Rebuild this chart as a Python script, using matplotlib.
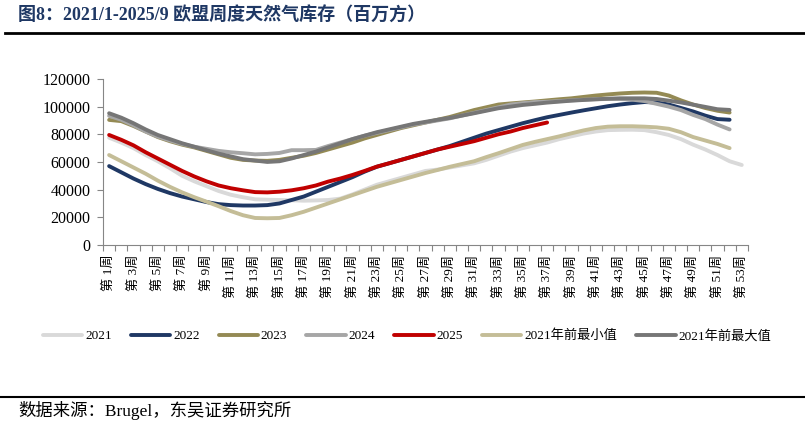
import matplotlib
matplotlib.use("Agg")
import matplotlib.pyplot as plt
from matplotlib.lines import Line2D
from matplotlib.ticker import FixedLocator, NullFormatter

plt.rcParams["font.family"] = ["Liberation Serif", "Noto Sans CJK SC"]

# weekly EU gas storage, million m3
weeks = list(range(1, 54))
week_labels = [f"第 {w}周" for w in weeks]

y2021 = [77500, 74000, 70000, 65000, 60500, 55500, 50000, 46000, 42500, 39000,
         36300, 34500, 33000, 32700, 32500, 32300, 32000, 32200, 32500, 33500,
         36500, 40000, 43500, 46000, 48500, 51000, 53500, 54500, 56000, 57500,
         59000, 61500, 64500, 67500, 70000, 72000, 74000, 76500, 78500, 80500,
         82000, 83000, 83200, 83300, 83000, 81500, 79500, 76500, 72500, 69000,
         65000, 60500, 57800]
y2022 = [57000, 52500, 48000, 44000, 40500, 37500, 35000, 33000, 31000, 29500,
         28800, 28500, 28500, 28800, 30000, 32500, 35000, 38500, 42000, 45500,
         49000, 53000, 56500, 59000, 61500, 64000, 66500, 69000, 71500, 74500,
         77500, 80500, 83000, 85500, 88000, 90200, 92300, 94000, 95700, 97300,
         98800, 100300, 101500, 102500, 103300, 103000, 101500, 99000, 96500, 93500,
         91000, 90500]
y2023 = [90400, 89500, 86000, 82000, 78000, 75000, 72500, 70500, 68000, 65500,
         63000, 61500, 61000, 60800, 61500, 63000, 64500, 66500, 69000, 71500,
         74000, 77000, 79500, 82000, 84500, 86500, 88500, 90500, 92500, 95000,
         97500, 99500, 101500, 102300, 103000, 103700, 104500, 105300, 106000, 107000,
         108000, 108800, 109500, 110000, 110200, 110000, 108000, 104500, 101500, 99000,
         97000, 95700]
y2024 = [93300, 90500, 86500, 82000, 78300, 75500, 73000, 71000, 69500, 68000,
         67000, 66300, 65500, 65800, 66500, 68500, 68500, 68700, 71500, 74000,
         76500, 79000, 81000, 83000, 85000, 87000, 88500, 90000, 91500, 93500,
         95500, 97500, 99500, 101500, 102500, 103300, 103500, 104000, 104500, 105000,
         105300, 105500, 105500, 105000, 104000, 102000, 100000, 97500, 94000, 91000,
         87000, 83500]
y2025 = [79500, 76000, 72000, 67000, 62500, 58000, 53500, 49500, 46000, 43000,
         41000, 39500, 38200, 38000, 38500, 39500, 41000, 43000, 45800, 48000,
         50600, 53500, 56600, 59000, 61500, 64000, 66500, 69000, 71000, 73000,
         75000, 77500, 80000, 82000, 84500, 86500, 88500]
ymin = [65000, 60500, 56000, 51500, 46500, 42000, 38000, 34500, 31300, 28000,
        24500, 21500, 19500, 19300, 19500, 21500, 24000, 27000, 30000, 33000,
        36000, 39000, 42000, 44500, 47000, 49500, 52000, 54200, 56500, 58500,
        60500, 63500, 66300, 69300, 72300, 74500, 76500, 78500, 80700, 82800,
        84500, 85500, 85800, 85800, 85500, 85000, 84000, 81500, 78000, 75500,
        73000, 70000]
ymax = [95200, 92000, 88000, 83500, 79500, 76500, 73500, 71000, 68500, 66000,
        64000, 62000, 61000, 60000, 60500, 62500, 65000, 67500, 70500, 73500,
        76500, 79000, 81500, 83500, 85500, 87500, 89000, 90500, 91800, 93500,
        95200, 97000, 98800, 100000, 101200, 102000, 102900, 103600, 104300, 104800,
        105300, 105700, 106000, 106000, 106000, 105500, 104300, 103000, 101400, 99800,
        98100, 97600]

series = [
    ("2021", y2021, "#D9D9D9"),
    ("2022", y2022, "#1F3864"),
    ("2023", y2023, "#948A54"),
    ("2024", y2024, "#A6A6A6"),
    ("2025", y2025, "#C00000"),
    ("2021年前最小值", ymin, "#C4BD97"),
    ("2021年前最大值", ymax, "#767676"),
]

fig = plt.figure(figsize=(8.05, 4.29), dpi=100)
ax = fig.add_axes([0.128, 0.429, 0.801, 0.387])

for name, vals, color in series:
    ax.plot(range(len(vals)), vals, color=color, lw=2.8, label=name,
            solid_capstyle="round", solid_joinstyle="round")

ax.set_xlim(-0.5, len(weeks) - 0.5)
ax.set_ylim(0, 120000)
ax.set_yticks(range(0, 120001, 20000))

# labels on odd weeks, tick marks between categories
ax.set_xticks(range(0, len(weeks), 2))
ax.set_xticklabels(week_labels[::2], rotation=90, fontsize=9.5, va="top")
ax.xaxis.set_minor_locator(FixedLocator([i - 0.5 for i in range(len(weeks) + 1)]))
ax.xaxis.set_minor_formatter(NullFormatter())
ax.tick_params(axis="x", which="major", length=0, pad=7)
ax.tick_params(axis="x", which="minor", length=4, color="#868686", width=0.8)
ax.tick_params(axis="y", length=4, color="#868686", width=0.8, labelsize=11.5, pad=5)

for side in ("top", "right"):
    ax.spines[side].set_visible(False)
for side in ("left", "bottom"):
    ax.spines[side].set_color("#868686")
    ax.spines[side].set_linewidth(0.8)

fig.legend(loc="center", bbox_to_anchor=(407 / 805, 1 - 336 / 429), ncol=7,
           frameon=False, fontsize=9.5, handlelength=3.0, handletextpad=0.2,
           columnspacing=1.45)

fig.text(18 / 805, 1 - 16 / 429, "图8：2021/1-2025/9 欧盟周度天然气库存（百万方）",
         fontsize=13, fontweight="bold", color="#1F3864", va="center")
fig.add_artist(Line2D([5 / 805, 1], [1 - 33 / 429] * 2, color="black", lw=2))
fig.add_artist(Line2D([0, 1], [1 - 397 / 429] * 2, color="black", lw=1.5))
fig.text(18 / 805, 1 - 411 / 429, "数据来源：Brugel，东吴证券研究所",
         fontsize=12.5, va="center")

fig.savefig("out.png", dpi=100)
